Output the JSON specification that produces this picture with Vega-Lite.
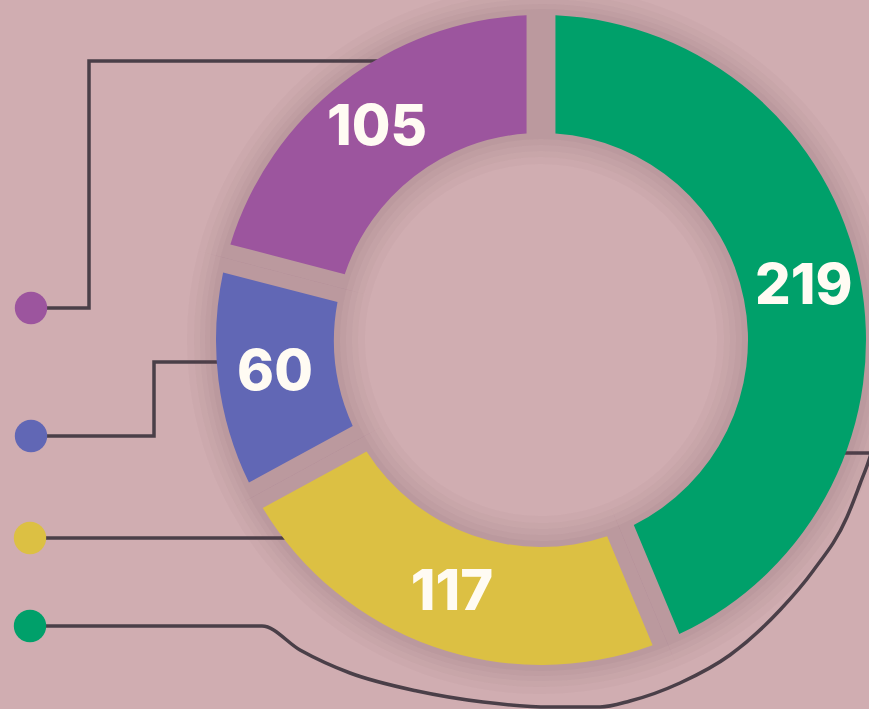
{
  "$schema": "https://vega.github.io/schema/vega-lite/v6.json",
  "width": 869,
  "height": 709,
  "padding": 0,
  "autosize": {"type": "none"},
  "background": "#d0adb1",
  "config": {"view": {"stroke": null}},
  "datasets": {
    "segments": [
      {"cat": "green", "value": 219, "idx": 1},
      {"cat": "yellow", "value": 117, "idx": 2},
      {"cat": "blue", "value": 60, "idx": 3},
      {"cat": "purple", "value": 105, "idx": 4}
    ],
    "leaders": [
      {"cat": "purple", "seq": 1, "x": 31, "y": 308},
      {"cat": "purple", "seq": 2, "x": 89, "y": 308},
      {"cat": "purple", "seq": 3, "x": 89, "y": 61},
      {"cat": "purple", "seq": 4, "x": 400, "y": 61},
      {"cat": "blue", "seq": 1, "x": 31, "y": 436},
      {"cat": "blue", "seq": 2, "x": 154, "y": 436},
      {"cat": "blue", "seq": 3, "x": 154, "y": 362},
      {"cat": "blue", "seq": 4, "x": 250, "y": 362},
      {"cat": "yellow", "seq": 1, "x": 31, "y": 538},
      {"cat": "yellow", "seq": 2, "x": 300, "y": 538},
      {"cat": "stub", "seq": 1, "x": 830, "y": 453},
      {"cat": "stub", "seq": 2, "x": 880, "y": 453}
    ],
    "curve": [
      {"seq": 1, "x": 31, "y": 626},
      {"seq": 2, "x": 200, "y": 626},
      {"seq": 3, "x": 262, "y": 626},
      {"seq": 4, "x": 300, "y": 650},
      {"seq": 5, "x": 350, "y": 673},
      {"seq": 6, "x": 417, "y": 691},
      {"seq": 7, "x": 483, "y": 702},
      {"seq": 8, "x": 550, "y": 707},
      {"seq": 9, "x": 600, "y": 707},
      {"seq": 10, "x": 630, "y": 701},
      {"seq": 11, "x": 680, "y": 683},
      {"seq": 12, "x": 730, "y": 655},
      {"seq": 13, "x": 780, "y": 610},
      {"seq": 14, "x": 813, "y": 571},
      {"seq": 15, "x": 847, "y": 517},
      {"seq": 16, "x": 860, "y": 484},
      {"seq": 17, "x": 869, "y": 460},
      {"seq": 18, "x": 875, "y": 440}
    ],
    "dots": [
      {"cat": "purple", "x": 31, "y": 308},
      {"cat": "blue", "x": 31, "y": 436},
      {"cat": "yellow", "x": 30, "y": 538},
      {"cat": "green", "x": 30, "y": 626}
    ]
  },
  "layer": [
    {
      "data": {"name": "leaders"},
      "mark": {"type": "line", "color": "#4a3f48", "strokeWidth": 3.5, "strokeJoin": "miter", "strokeCap": "butt"},
      "encoding": {
        "x": {"field": "x", "type": "quantitative", "scale": {"domain": [0, 869], "nice": false, "zero": false}, "axis": null},
        "y": {"field": "y", "type": "quantitative", "scale": {"domain": [0, 709], "nice": false, "zero": false, "reverse": true}, "axis": null},
        "detail": {"field": "cat"},
        "order": {"field": "seq"}
      }
    },
    {
      "data": {"name": "curve"},
      "mark": {"type": "line", "color": "#4a3f48", "strokeWidth": 3.5, "interpolate": "monotone"},
      "encoding": {
        "x": {"field": "x", "type": "quantitative", "scale": {"domain": [0, 869], "nice": false, "zero": false}, "axis": null},
        "y": {"field": "y", "type": "quantitative", "scale": {"domain": [0, 709], "nice": false, "zero": false, "reverse": true}, "axis": null},
        "order": {"field": "seq"}
      }
    },
    {
      "data": {"name": "dots"},
      "mark": {"type": "point", "filled": true, "opacity": 1, "size": 1050, "shape": "circle"},
      "encoding": {
        "x": {"field": "x", "type": "quantitative", "scale": {"domain": [0, 869], "nice": false, "zero": false}, "axis": null},
        "y": {"field": "y", "type": "quantitative", "scale": {"domain": [0, 709], "nice": false, "zero": false, "reverse": true}, "axis": null},
        "color": {"field": "cat", "type": "nominal", "scale": {"domain": ["green", "yellow", "blue", "purple"], "range": ["#00a06a", "#dcc043", "#6167b5", "#9c559e"]}, "legend": null}
      }
    },
    {
      "data": {"name": "segments"},
      "mark": {"type": "arc", "radius": 354, "radius2": 176, "color": "#6a4a5c", "opacity": 0.035},
      "encoding": {
        "x": {"datum": 541, "type": "quantitative", "scale": {"domain": [0, 869], "nice": false, "zero": false}, "axis": null},
        "y": {"datum": 340, "type": "quantitative", "scale": {"domain": [0, 709], "nice": false, "zero": false, "reverse": true}, "axis": null},
        "theta": {"field": "value", "type": "quantitative", "stack": true},
        "detail": {"field": "cat"},
        "order": {"field": "idx"}
      }
    },
    {
      "data": {"name": "segments"},
      "mark": {"type": "arc", "radius": 347, "radius2": 183, "color": "#6a4a5c", "opacity": 0.035},
      "encoding": {
        "x": {"datum": 541, "type": "quantitative", "scale": {"domain": [0, 869], "nice": false, "zero": false}, "axis": null},
        "y": {"datum": 340, "type": "quantitative", "scale": {"domain": [0, 709], "nice": false, "zero": false, "reverse": true}, "axis": null},
        "theta": {"field": "value", "type": "quantitative", "stack": true},
        "detail": {"field": "cat"},
        "order": {"field": "idx"}
      }
    },
    {
      "data": {"name": "segments"},
      "mark": {"type": "arc", "radius": 341, "radius2": 189, "color": "#6a4a5c", "opacity": 0.04},
      "encoding": {
        "x": {"datum": 541, "type": "quantitative", "scale": {"domain": [0, 869], "nice": false, "zero": false}, "axis": null},
        "y": {"datum": 340, "type": "quantitative", "scale": {"domain": [0, 709], "nice": false, "zero": false, "reverse": true}, "axis": null},
        "theta": {"field": "value", "type": "quantitative", "stack": true},
        "detail": {"field": "cat"},
        "order": {"field": "idx"}
      }
    },
    {
      "data": {"name": "segments"},
      "mark": {"type": "arc", "radius": 336, "radius2": 195, "color": "#6a4a5c", "opacity": 0.045},
      "encoding": {
        "x": {"datum": 541, "type": "quantitative", "scale": {"domain": [0, 869], "nice": false, "zero": false}, "axis": null},
        "y": {"datum": 340, "type": "quantitative", "scale": {"domain": [0, 709], "nice": false, "zero": false, "reverse": true}, "axis": null},
        "theta": {"field": "value", "type": "quantitative", "stack": true},
        "detail": {"field": "cat"},
        "order": {"field": "idx"}
      }
    },
    {
      "data": {"name": "segments"},
      "mark": {"type": "arc", "radius": 331, "radius2": 201, "color": "#6a4a5c", "opacity": 0.05},
      "encoding": {
        "x": {"datum": 541, "type": "quantitative", "scale": {"domain": [0, 869], "nice": false, "zero": false}, "axis": null},
        "y": {"datum": 340, "type": "quantitative", "scale": {"domain": [0, 709], "nice": false, "zero": false, "reverse": true}, "axis": null},
        "theta": {"field": "value", "type": "quantitative", "stack": true},
        "detail": {"field": "cat"},
        "order": {"field": "idx"}
      }
    },
    {
      "data": {"name": "segments"},
      "mark": {"type": "arc", "radius": 325, "radius2": 207, "padAngle": 0.075},
      "encoding": {
        "x": {"datum": 541, "type": "quantitative", "scale": {"domain": [0, 869], "nice": false, "zero": false}, "axis": null},
        "y": {"datum": 340, "type": "quantitative", "scale": {"domain": [0, 709], "nice": false, "zero": false, "reverse": true}, "axis": null},
        "theta": {"field": "value", "type": "quantitative", "stack": true},
        "color": {"field": "cat", "type": "nominal", "scale": {"domain": ["green", "yellow", "blue", "purple"], "range": ["#00a06a", "#dcc043", "#6167b5", "#9c559e"]}, "legend": null},
        "order": {"field": "idx"}
      }
    },
    {
      "data": {"name": "segments"},
      "mark": {"type": "text", "radius": 268, "font": "Inter", "fontWeight": 800, "fontSize": 56, "color": "#fffbf3", "align": "center", "baseline": "middle"},
      "encoding": {
        "x": {"datum": 541, "type": "quantitative", "scale": {"domain": [0, 869], "nice": false, "zero": false}, "axis": null},
        "y": {"datum": 340, "type": "quantitative", "scale": {"domain": [0, 709], "nice": false, "zero": false, "reverse": true}, "axis": null},
        "theta": {"field": "value", "type": "quantitative", "stack": true},
        "detail": {"field": "cat"},
        "order": {"field": "idx"},
        "text": {"field": "value", "type": "quantitative"}
      }
    }
  ]
}
